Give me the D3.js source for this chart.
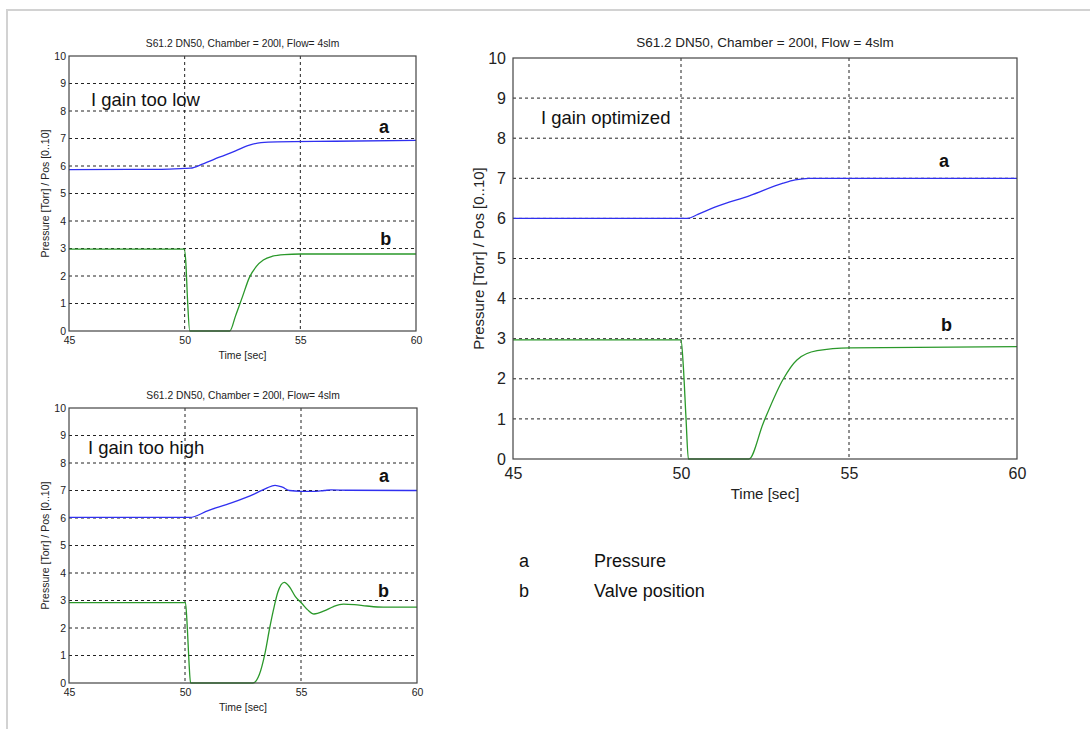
<!DOCTYPE html>
<html>
<head>
<meta charset="utf-8">
<script src="https://cdn.jsdelivr.net/npm/d3@7"></script>
<style>
  body { margin: 0; background: #fff; }
  svg { display: block; font-family: "Liberation Sans", Arial, sans-serif; }
  .axis .domain { display: none; }
</style>
</head>
<body>
<svg width="1090" height="729"></svg>
<script>
// tick values shared by all three plots
const timeTicks = [45, 50, 55, 60];
const valueTicks = [0, 1, 2, 3, 4, 5, 6, 7, 8, 9, 10];
const gridTimes = [50, 55];
const gridValues = [1, 2, 3, 4, 5, 6, 7, 8, 9];

// [time, value]
const lowPressure = [[45, 5.87], [49, 5.88], [50, 5.91], [50.25, 5.92], [50.8, 6.08], [51.5, 6.32],
  [52.2, 6.55], [52.8, 6.76], [53.3, 6.85], [54, 6.88], [56.5, 6.9], [60, 6.93]];
const lowValve = [[45, 2.98], [49.98, 2.98], [50.05, 2.5], [50.12, 1.2], [50.22, 0], [51.95, 0],
  [52.2, 0.55], [52.5, 1.25], [52.8, 1.95], [53.1, 2.35], [53.4, 2.58], [53.8, 2.72],
  [54.3, 2.78], [55, 2.8], [60, 2.8]];

const highPressure = [[45, 6.02], [50.2, 6.02], [51, 6.27], [52, 6.55], [53, 6.88], [53.5, 7.08],
  [53.88, 7.19], [54.2, 7.12], [54.5, 7.0], [55, 6.97], [55.5, 6.97], [56, 7.0], [56.3, 7.02],
  [57, 7.01], [60, 7.0]];
const highValve = [[45, 2.92], [50.02, 2.92], [50.1, 2.0], [50.17, 0.8], [50.24, 0], [52.93, 0],
  [53.2, 0.3], [53.45, 1.09], [53.65, 2.0], [53.81, 2.65], [54.0, 3.3], [54.28, 3.66],
  [54.5, 3.5], [54.75, 3.15], [55.03, 2.9], [55.3, 2.65], [55.56, 2.51], [56.0, 2.62],
  [56.4, 2.78], [56.83, 2.87], [57.3, 2.85], [57.84, 2.8], [58.54, 2.76], [60, 2.76]];

const optPressure = [[45, 6.0], [50.2, 6.0], [50.5, 6.1], [51.07, 6.3], [52.05, 6.57],
  [53.04, 6.88], [53.4, 6.96], [53.8, 7.0], [60, 7.0]];
const optValve = [[45, 2.97], [50.0, 2.97], [50.07, 2.3], [50.15, 1.0], [50.22, 0], [52.02, 0],
  [52.45, 0.9], [53.04, 1.99], [53.45, 2.47], [54.05, 2.7], [55.03, 2.77], [60, 2.8]];

const title = 'S61.2 DN50, Chamber = 200l, Flow = 4slm';
const smallTitle = 'S61.2 DN50, Chamber = 200l, Flow= 4slm';
const xLabel = 'Time [sec]';
const yLabel = 'Pressure [Torr] / Pos [0..10]';

const legendKeys = ['a', 'b'];
const legendNames = ['Pressure', 'Valve position'];

const svg = d3.select('svg');

// light frame round the figure
svg.append('path')
  .attr('d', 'M7,729 L7,10 L1090,10')
  .attr('fill', 'none')
  .attr('stroke', '#d2d2d2')
  .attr('stroke-width', 2);

const drawPlot = cfg => {
  const xScale = d3.scaleLinear().domain([45, 60]).range([cfg.left, cfg.right]);
  const yScale = d3.scaleLinear().domain([0, 10]).range([cfg.bottom, cfg.top]);
  const g = svg.append('g');

  // dashed grid
  g.selectAll('.vgrid').data(gridTimes).enter().append('line')
    .attr('x1', d => xScale(d)).attr('x2', d => xScale(d))
    .attr('y1', cfg.top).attr('y2', cfg.bottom)
    .attr('stroke', '#222').attr('stroke-dasharray', '3,3');
  g.selectAll('.hgrid').data(gridValues).enter().append('line')
    .attr('x1', cfg.left).attr('x2', cfg.right)
    .attr('y1', d => yScale(d)).attr('y2', d => yScale(d))
    .attr('stroke', '#222').attr('stroke-dasharray', '3,3');

  const line = d3.line()
    .x(d => xScale(d[0])).y(d => yScale(d[1]))
    .curve(d3.curveMonotoneX);
  g.append('path').datum(cfg.pressure)
    .attr('d', line).attr('fill', 'none')
    .attr('stroke', '#3030f0').attr('stroke-width', 1.3);
  g.append('path').datum(cfg.valve)
    .attr('d', line).attr('fill', 'none')
    .attr('stroke', '#2a982a').attr('stroke-width', 1.3);

  // box
  g.append('rect')
    .attr('x', cfg.left).attr('y', cfg.top)
    .attr('width', cfg.right - cfg.left).attr('height', cfg.bottom - cfg.top)
    .attr('fill', 'none').attr('stroke', '#444').attr('stroke-width', 1.2);

  const xAxisG = g.append('g').attr('class', 'axis')
    .attr('transform', `translate(0, ${cfg.bottom})`)
    .call(d3.axisBottom(xScale).tickValues(timeTicks).tickSize(0).tickPadding(cfg.xPad));
  xAxisG.selectAll('text').attr('font-size', cfg.tickFont).attr('fill', '#222')
    .attr('font-family', '"Liberation Sans", Arial, sans-serif');

  const yAxisG = g.append('g').attr('class', 'axis')
    .attr('transform', `translate(${cfg.left}, 0)`)
    .call(d3.axisLeft(yScale).tickValues(valueTicks).tickSize(0).tickPadding(cfg.yPad));
  yAxisG.selectAll('text').attr('font-size', cfg.tickFont).attr('fill', '#222')
    .attr('font-family', '"Liberation Sans", Arial, sans-serif');

  g.append('text')
    .attr('x', (cfg.left + cfg.right) / 2).attr('y', cfg.top - cfg.titleGap)
    .attr('text-anchor', 'middle').attr('font-size', cfg.titleFont).attr('fill', '#222')
    .text(cfg.title);

  g.append('text')
    .attr('x', (cfg.left + cfg.right) / 2).attr('y', cfg.bottom + cfg.xLabelGap)
    .attr('text-anchor', 'middle').attr('font-size', cfg.labelFont).attr('fill', '#222')
    .text(xLabel);

  g.append('text')
    .attr('transform', `translate(${cfg.left - cfg.yLabelGap}, ${(cfg.top + cfg.bottom) / 2}) rotate(-90)`)
    .attr('text-anchor', 'middle').attr('font-size', cfg.labelFont).attr('fill', '#222')
    .text(yLabel);

  // annotations
  g.append('text')
    .attr('x', xScale(cfg.note[0])).attr('y', yScale(cfg.note[1]))
    .attr('font-size', 18.5).attr('fill', '#111')
    .text(cfg.note[2]);
  g.append('text')
    .attr('x', xScale(cfg.aPos[0])).attr('y', yScale(cfg.aPos[1]))
    .attr('font-size', 18).attr('font-weight', 'bold').attr('fill', '#111')
    .text('a');
  g.append('text')
    .attr('x', xScale(cfg.bPos[0])).attr('y', yScale(cfg.bPos[1]))
    .attr('font-size', 18).attr('font-weight', 'bold').attr('fill', '#111')
    .text('b');
};

const small = { tickFont: 10.5, titleFont: 10.3, labelFont: 10.5, xPad: 6, yPad: 3, titleGap: 9, xLabelGap: 28, yLabelGap: 20, title: smallTitle };

drawPlot(Object.assign({}, small, {
  left: 69, top: 56, right: 416, bottom: 331,
  pressure: lowPressure, valve: lowValve,
  note: [45.95, 8.18, 'I gain too low'], aPos: [58.4, 7.2], bPos: [58.45, 3.13]
}));

drawPlot(Object.assign({}, small, {
  left: 69, top: 408, right: 417, bottom: 683,
  pressure: highPressure, valve: highValve,
  note: [45.82, 8.33, 'I gain too high'], aPos: [58.36, 7.31], bPos: [58.32, 3.13]
}));

drawPlot({
  left: 513, top: 58, right: 1017, bottom: 459,
  tickFont: 16, titleFont: 13.5, labelFont: 15, xPad: 9, yPad: 7, titleGap: 11, xLabelGap: 40, yLabelGap: 29,
  title: title,
  pressure: optPressure, valve: optValve,
  note: [45.83, 8.35, 'I gain optimized'], aPos: [57.68, 7.28], bPos: [57.74, 3.19]
});

// legend
const legend = svg.append('g');
legend.selectAll('.key').data(legendKeys).enter().append('text')
  .attr('x', 519).attr('y', (d, i) => 567 + i * 30)
  .attr('font-size', 18).attr('fill', '#111')
  .text(d => d);
legend.selectAll('.name').data(legendNames).enter().append('text')
  .attr('x', 594).attr('y', (d, i) => 567 + i * 30)
  .attr('font-size', 18).attr('fill', '#111')
  .text(d => d);
</script>
</body>
</html>
